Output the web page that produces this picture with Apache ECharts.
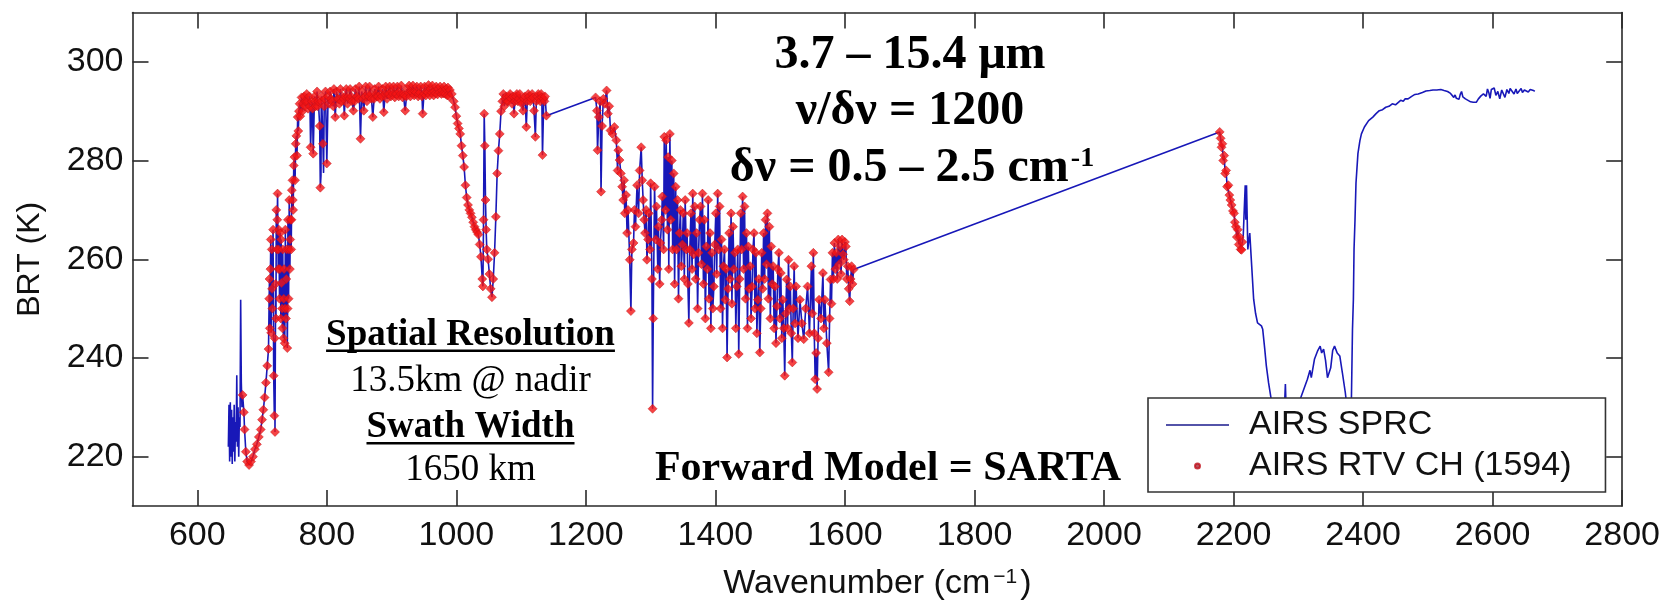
<!DOCTYPE html>
<html><head><meta charset="utf-8">
<script src="https://cdn.jsdelivr.net/npm/echarts@6/dist/echarts.min.js"></script>
<style>html,body{margin:0;padding:0;background:#fff}#c{width:1663px;height:606px}</style>
</head><body><div id="c"></div>
<script>
// ---- tick labels ----
const xTicks = [600, 800, 1000, 1200, 1400, 1600, 1800, 2000, 2200, 2400, 2600, 2800];
const yTicks = [220, 240, 260, 280, 300];

// ---- AIRS RTV channels (red), long-wave band ----
const rtvWnA = [670,672,673,675,677,680,683,686,689,692,695,698,700,702,704,706,708,710,711,712,713,714,715,716,717,718,719,720,721,722,723,724,725,726,727,728,729,730,731,732,733,734,735,736,737,738,739,740,741,742,743,744,745,746,747,748,749,750,751,752,753,754,755,756,757,758,759,761,763,765,767,769,771,773,775,777,779,781,783,785,787,789,790,792,794,796,798,800,802,805,808,811,813,815,818,821,824,827,830,833,836,839,841,844,847,850,852,854,857,860,863,866,869,871,874,877,880,883,886,888,891,894,897,900,903,906,909,912,915,918,921,924,927,930,933,936,939,942,945,948,951,954,957,960,963,966,969,972,975,978,981,984,987,990,993,996,998,1000,1002,1004,1006,1008,1010,1012,1014,1016,1018,1020,1022,1024,1026,1028,1030,1032,1034,1036,1038,1040,1041,1042,1043,1044,1045,1046,1047,1049,1051,1053,1055,1057,1059,1061,1063,1065,1067,1069,1071,1074,1077,1080,1083,1086,1089,1092,1095,1098,1101,1103,1106,1108,1111,1114,1117,1120,1122,1125,1128,1131,1133,1135,1137,1139];
const rtvBtA = [232.5,229,225.5,221,219,218.3,219,220,221.5,222.5,224,225.5,227.5,229.5,232,235,238.4,241.8,252,246,258,245.1,262,250,266,236.4,228.3,225,255,270,262,273.3,258,266,252,265.3,248,255.2,250,262,244,258,243,266,248,262,242,268,252,272,258,268,262,274,276,270,279,280.7,276,283.4,285,281,288.8,286,290,291.5,289,292.8,291.5,293,292,293.5,290.5,293,282.7,292,281.4,293,291,294,292,287,274.5,293,283.4,291,294,279.4,293,294,292,294.5,288.8,294,292.5,294.5,293,289.1,294.5,293,294.5,292,290.1,294.5,293,295,284.4,294,290.1,295,293.5,295,292.5,288.8,294.5,293,295,293.5,294.5,289.8,295,293.5,295,294,295,293.5,295,294,295.2,293.5,290.1,294.5,295.2,294,295.2,294,295,293.5,295,289.5,295,294,295.3,294.5,295.2,294,295,294.5,295,294.2,295,294.5,294.8,294.3,293.5,292,290.8,289,287.5,286.5,285.4,283,281,278.7,275,272.5,271,270,269.3,268.5,267.5,266.6,266,265.5,265,263,260.5,256,254.5,268,289.5,283,272,266,262,260,257,254,252.3,256,261.3,268.6,277.4,282,285.4,290,292,291,293,292,293.5,291.5,289.5,293,292,293.5,291.5,290.1,293,286.8,293.5,292,293.5,290.1,284.8,293,292.5,293.5,281.1,292.5,293,289.1];
// further long-wave channels lying inside the dense red band
const rtvWnA2 = [711.5,713.5,715.5,719.5,721.5,723.5,725.5,727.5,729.5,731.5,733.5,735.5,737.5,739.5,741.5,743.5,745.5,747.5,762.5,766,770,774,778,782,786,791.5,797,803.5,806.5,810,816.5,819.5,822.5,826,828.5,832,835,838,843,846,849,855.5,859,862,865,868,873,876,879,882,885,890,893,896,899,902,905,908,911,914,917,920,923,926,929,932,935,938,941,944,947,950,953,956,959,962,965,968,971,974,977,980,983,986,989,1072.5,1075.5,1078.5,1081.5,1084.5,1087.5,1090.5,1093.5,1096.5,1099.5,1104.5,1109.5,1112.5,1115.5,1118.5,1123.5,1126.5,1129.5,1132,1136];
const rtvBtA2 = [256,264,254,244,248,268,262,258,264,246,252,250,256,250,262,264,268,272,290,291,292,291,290.5,292,291,292,292.5,291.5,292.5,291,292.5,291.5,292,292.5,293,291.5,292.5,293,292,293,292.5,292.5,293,292,293,293.5,292.5,293.5,293,292.5,293,293.5,292.5,293.5,293,293.5,292.8,293.5,293,293.5,292.8,293.2,293,293.8,293,293.8,293.2,293.8,293,293.8,293,293.5,293.2,293.8,293.2,293.8,293.2,293.6,293.4,293.8,293.5,293.6,293.5,293.2,293,293.5,292.5,292,293,292.5,293,292,293.5,292.5,292,292.5,292,293,292.5,292.8,292,293.5,292,292.8,292];

// ---- AIRS RTV channels (red), water-vapour band ----
const rtvWnB = [1215,1217,1218,1220,1222,1223.4,1225,1227,1229,1232,1234,1236,1238,1241,1244,1247,1249,1250,1252,1254,1256,1257.6,1259,1260,1262,1263.6,1265,1267.7,1269.5,1271,1273.6,1275,1276.6,1279,1281.3,1283,1285.4,1287,1288.4,1290,1291.3,1293,1294.3,1296,1297.2,1299,1300,1302,1303,1304,1306,1308,1309,1311,1312,1314,1315,1317,1318,1320,1321,1323,1324,1326,1327,1328,1329.7,1331,1332.7,1334,1335.6,1337,1338.6,1340,1341.5,1343,1344.5,1346,1347.4,1349,1350.4,1352,1353.3,1355,1356.3,1357.5,1359,1360.5,1362.2,1364,1365,1366.5,1368,1369.5,1371,1372.5,1374,1375.5,1377,1378.5,1380,1381.5,1383,1384.5,1386,1387.5,1388.8,1390,1391.7,1393,1394.7,1396,1397.6,1399,1400.6,1402,1403.5,1405,1406.5,1408,1409.4,1411,1412.4,1414,1415.3,1416.5,1418,1419.5,1421.2,1422.5,1424.2,1425.5,1427.2,1428.5,1430,1431.5,1433,1434.5,1436,1437.5,1439,1440.5,1442,1443.5,1445,1446.5,1448,1449.5,1450.8,1452,1453.7,1455,1456.7,1458,1459.6,1461,1462.6,1464,1465.5,1467,1468.5,1470,1471.5,1473,1474.4,1476,1477.4,1479,1480.3,1481.8,1483.3,1484.8,1486.2,1487.7,1489.2,1490.6,1492,1493.5,1495,1496.5,1498,1499.5,1501,1502.5,1504,1505.5,1507,1508.5,1510,1511.4,1512.8,1514.2,1515.7,1517.2,1518.7,1520.1,1521.6,1523,1524.6,1527.5,1530.5,1533.5,1536.4,1539.4,1542.3,1545.2,1548.2,1549.7,1551.2,1552.6,1554,1555.5,1557,1558.5,1560,1563,1566,1567.5,1569,1572,1574.8,1576.3,1577.8,1579.2,1580.7,1582.2,1583.7,1585.2,1586.6,1588.1,1589.6,1591,1592.5,1594,1595.5,1597,1598.4,1600,1601.4,1602.8,1604.3,1605.8,1607.3,1608.8,1610.2,1611.7,1613.2];
const rtvBtB = [292.8,290.1,282.1,288.8,292,273.7,287,292.5,291.5,294.2,289.5,291,286.1,285.4,286.8,284.1,278,282.1,280.1,277.4,274.7,272,276,269.3,273,265.3,270,259.9,249.5,262,263.3,270,266.6,275,269.3,278,282.7,276,272,268,265.3,270,259.9,264,269.3,262,275.4,256,229.7,248,274.7,264,270.7,258,266.6,255,263.3,268,272.7,262,284.8,270,284.1,266,280.7,258,285.4,268,280,262,277.4,255,274.7,262,272,252,265.3,270,258.6,263,269.3,256,272,262,265.3,255,247.1,262,269.3,258,273.3,261,270.7,256,265.3,250,261.3,268,270.7,259,273.3,255,268,248,262.6,258,272,252,265.3,246,261.3,250,254.5,263,269.3,257,273.3,262,270.7,250,264,246,258.6,262,251.8,258,240.1,254,265.3,256,269.3,251,266.6,258,261.3,246,254.5,262,240.8,256,269.3,262,272.7,258,270.7,252,265.3,246,262.6,254,258.6,248,254.5,262,265.3,250,261.3,245,251.8,256,241.1,250,261.3,254,265.3,256,268,259,269.3,252,266.6,248,262.6,255,258.6,246,254.5,243,250.5,258,261.3,248,257.2,244,251.8,246,236.4,249,255.9,246,259.9,250,254.5,245,239.1,250,258.6,247,254.5,244,251.8,247,243.8,250,254.5,245,258.6,249,261.3,245,235.7,241,233.7,244,251.8,248,257.2,246,251.8,243,237.1,248,255.9,251,261.3,256,263.3,258,261.3,256,264,259,262.6,257,264,261,259.9,263.5,262.6,256,258.6,254,251.5,256,258.6,255,257.9];

// ---- AIRS RTV channels (red), short-wave band ----
const rtvWnC = [2178.6,2180,2181.4,2182.7,2184,2185.5,2187,2188.5,2190,2192,2193.5,2195,2197,2199,2200.8,2202,2203.5,2205,2206.5,2208,2209.5,2211,2212.3,2213.5];
const rtvBtC = [285.8,284.5,282.7,283.4,280,281,277.4,278,274.7,275,273,272,271,269.8,269.3,267.5,266.6,264.5,266,263,264.5,262,261.9,263.5];

// ---- AIRS SPRC only (blue): 15 um CO2 band edge ----
const sprcLowWn = [648,649,650,651,652,653,654,655,656,657,658,659,660,661,662,663,664,665,666,667,668,669];
const sprcLowBt = [222,230.5,219,231,220,229.5,218.5,228,221,230.5,219,227,223,236.5,222,230,220,228,226,251.8,235,230];
// blue-only spikes inside the long-wave band
const sprcSpikeWn = [791, 795, 1042.5];
const sprcSpikeBt = [277, 277.5, 279];
// ---- AIRS SPRC only (blue): 4 um band ----
const sprcHighWn = [2215,2216.5,2218,2219,2220,2222,2225,2228,2231,2234,2237,2240,2243,2245,2248,2250.6,2254,2258,2262,2266,2270,2275,2278,2280,2282,2286,2290,2295,2300,2303,2308,2314,2318,2320,2325,2330,2333.7,2336,2339,2342,2345,2347.6,2350,2353,2355.9,2360,2364,2368,2372.5,2376,2378,2380,2382,2383.6,2385,2386,2387.5,2389,2392,2395,2397.4,2402,2408.5,2415,2420,2425,2430,2435,2440,2445,2450,2453,2458,2462,2465,2469.4,2475,2480,2485,2491.6,2497,2503,2508,2513.8,2520,2525,2530.4,2535,2538,2540,2542,2544,2546,2548,2550,2552,2554,2556,2558,2562,2566,2570,2574.7,2578,2582,2585.8,2588,2590,2592,2594,2596,2598,2600,2602.4,2605,2608,2611,2614,2616,2619,2622,2625,2627,2630,2633,2636,2638,2641,2644,2646,2649,2652,2655,2658,2660,2663,2665];
const sprcHighBt = [265,270,275,268,275,262,265.3,258.6,251.9,249,247.1,247.5,246.5,245.8,242,238.4,235,231.7,228,224,222,223,228,234.7,226,225,224,226,229,231.7,233.5,235.7,237.5,236,239.8,241.5,242.4,241,241.8,239.5,236,235.7,238,241.5,242.4,241,240.4,237,233,229,226,222,232,245.8,251.9,262,268,275.4,281.4,284,285.4,286.8,288.1,288.8,289.5,290.1,290.3,290.8,291,291.5,291.3,291.5,292.2,292,292.5,292.5,293,293.4,293.5,293.8,294.1,294.2,294.3,294.3,294.4,294.2,294,293.6,293.3,292.8,293.3,292.6,293,292.4,293.4,294,292.9,292.5,292.5,292.2,291.9,291.8,291.8,292.5,293.1,293.5,293.8,293,294.5,293.8,292.6,294.4,294.6,294.7,293.2,294,292.5,294.3,294.5,292.8,294.4,293.6,294.6,294.8,293.5,294.5,293.6,293.5,294.6,293.8,294.3,294.5,293.9,294.4,294,294.2,294];

const zip = (a, b) => a.map((v, i) => [v, b[i]]);
const rtvPts = [].concat(zip(rtvWnA, rtvBtA), zip(rtvWnA2, rtvBtA2), zip(rtvWnB, rtvBtB), zip(rtvWnC, rtvBtC))
  .sort((p, q) => p[0] - q[0]);
const sprcPts = rtvPts.concat(zip(sprcLowWn, sprcLowBt), zip(sprcSpikeWn, sprcSpikeBt), zip(sprcHighWn, sprcHighBt))
  .sort((p, q) => p[0] - q[0]);

const SANS = 'Liberation Sans';
const SERIF = 'Liberation Serif';
const AX = '#2a2a2a';

// underline widths
const mctx = document.createElement('canvas').getContext('2d');
mctx.font = 'bold 37px "' + SERIF + '"';
const wSR = mctx.measureText('Spatial Resolution').width;
const wSW = mctx.measureText('Swath Width').width;
const cxBlock = 470.5;

const axisCommon = (extra) => Object.assign({
  type: 'value', splitLine: { show: false },
  axisLine: { show: true, onZero: false, lineStyle: { color: AX, width: 1.6 } }
}, extra);

const chart = echarts.init(document.getElementById('c'), null, { renderer: 'canvas' });
chart.setOption({
  animation: false,
  backgroundColor: '#fff',
  grid: { left: 132.5, right: 40, top: 12.5, bottom: 98.3, containLabel: false },
  xAxis: [
    axisCommon({
      min: 500, max: 2800, position: 'bottom',
      axisTick: { show: true, inside: true, length: 16, customValues: xTicks, lineStyle: { color: AX, width: 1.6 } },
      axisLabel: { show: true, customValues: xTicks, margin: 13, fontSize: 34, fontFamily: SANS, color: '#111', formatter: v => String(v) },
      name: 'Wavenumber (cm{sup|−1})', nameLocation: 'middle', nameGap: 61,
      nameTextStyle: { fontSize: 34, fontFamily: SANS, color: '#111', lineHeight: 34,
        rich: { sup: { fontSize: 21, fontFamily: SANS, color: '#111', verticalAlign: 'top', lineHeight: 8, padding: [0, 3, 0, 3] } } }
    }),
    axisCommon({
      min: 500, max: 2800, position: 'top',
      axisTick: { show: true, inside: true, length: 16, customValues: xTicks, lineStyle: { color: AX, width: 1.6 } },
      axisLabel: { show: false }
    })
  ],
  yAxis: [
    axisCommon({
      min: 210, max: 310, position: 'left',
      axisTick: { show: true, inside: true, length: 16, customValues: yTicks, lineStyle: { color: AX, width: 1.6 } },
      axisLabel: { show: true, customValues: yTicks, margin: 9, fontSize: 34, fontFamily: SANS, color: '#111', formatter: v => String(v) },
      name: 'BRT (K)', nameLocation: 'middle', nameGap: 86,
      nameTextStyle: { fontSize: 32, fontFamily: SANS, color: '#111' }
    }),
    axisCommon({
      min: 210, max: 310, position: 'right',
      axisTick: { show: true, inside: true, length: 16, customValues: yTicks, lineStyle: { color: AX, width: 1.6 } },
      axisLabel: { show: false }
    })
  ],
  legend: {
    orient: 'vertical', left: 1148, top: 398,
    padding: [10, 34, 9, 18], itemGap: 7, itemWidth: 63, itemHeight: 5,
    backgroundColor: '#fff', borderColor: '#333', borderWidth: 1.6, borderRadius: 0,
    selectedMode: false,
    formatter: n => '{g| }' + n,
    textStyle: { fontSize: 34, fontFamily: SANS, color: '#111', lineHeight: 34, rich: { g: { width: 15, fontSize: 34 } } },
    data: [
      { name: 'AIRS SPRC', icon: 'path://M0,0L100,0L100,2.6L0,2.6Z', itemStyle: { color: '#1a1a8c' } },
      { name: 'AIRS RTV CH (1594)', icon: 'circle', itemStyle: { color: '#a82838' } }
    ]
  },
  series: [
    { name: 'AIRS SPRC', type: 'line', data: sprcPts, symbol: 'none', showSymbol: false,
      lineStyle: { color: '#1818b8', width: 1.6 }, itemStyle: { color: '#1818b8' }, z: 2 },
    { name: 'AIRS RTV CH (1594)', type: 'scatter', data: rtvPts, symbol: 'diamond', symbolSize: 9,
      itemStyle: { color: '#f41414', borderColor: '#c0101a', borderWidth: 0.6 }, z: 3 }
  ],
  graphic: [
    { type: 'text', x: 910, y: 56, z: 10, style: { text: '3.7 – 15.4 μm', fontSize: 48, fontWeight: 'bold', fontFamily: SERIF, fill: '#000', align: 'center', verticalAlign: 'middle' } },
    { type: 'text', x: 910, y: 112, z: 10, style: { text: 'ν/δν = 1200', fontSize: 48, fontWeight: 'bold', fontFamily: SERIF, fill: '#000', align: 'center', verticalAlign: 'middle' } },
    { type: 'text', x: 912, y: 169, z: 10, style: { text: 'δν = 0.5 – 2.5 cm{sup|-1}', fontSize: 48, fontWeight: 'bold', fontFamily: SERIF, fill: '#000', align: 'center', verticalAlign: 'middle',
        rich: { sup: { fontSize: 28, fontWeight: 'bold', fontFamily: SERIF, fill: '#000', verticalAlign: 'top', lineHeight: 28, padding: [0, 0, 0, 2] } } } },
    { type: 'text', x: cxBlock, y: 335, z: 10, style: { text: 'Spatial Resolution', fontSize: 37, fontWeight: 'bold', fontFamily: SERIF, fill: '#000', align: 'center', verticalAlign: 'middle' } },
    { type: 'rect', z: 10, shape: { x: cxBlock - wSR / 2, y: 349.5, width: wSR, height: 2.5 }, style: { fill: '#000' } },
    { type: 'text', x: cxBlock, y: 381, z: 10, style: { text: '13.5km @ nadir', fontSize: 37, fontFamily: SERIF, fill: '#000', align: 'center', verticalAlign: 'middle' } },
    { type: 'text', x: cxBlock, y: 427, z: 10, style: { text: 'Swath Width', fontSize: 37, fontWeight: 'bold', fontFamily: SERIF, fill: '#000', align: 'center', verticalAlign: 'middle' } },
    { type: 'rect', z: 10, shape: { x: cxBlock - wSW / 2, y: 442, width: wSW, height: 2.5 }, style: { fill: '#000' } },
    { type: 'text', x: cxBlock, y: 470, z: 10, style: { text: '1650 km', fontSize: 37, fontFamily: SERIF, fill: '#000', align: 'center', verticalAlign: 'middle' } },
    { type: 'text', x: 888, y: 469, z: 10, style: { text: 'Forward Model = SARTA', fontSize: 42, fontWeight: 'bold', fontFamily: SERIF, fill: '#000', align: 'center', verticalAlign: 'middle' } }
  ]
});
</script>
</body></html>
